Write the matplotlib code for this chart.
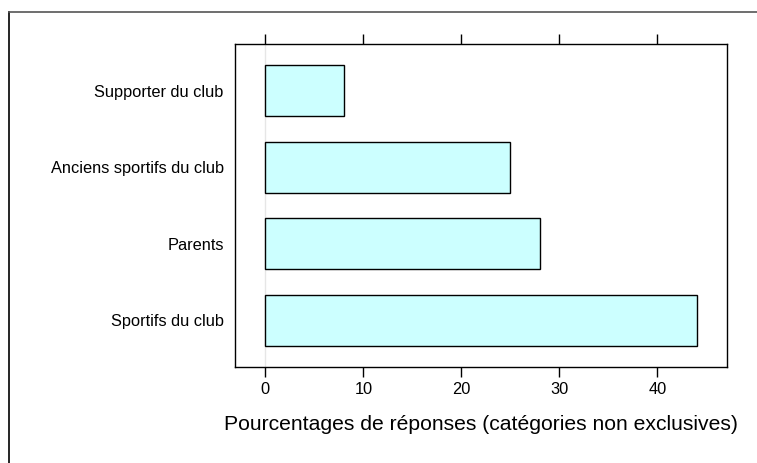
import matplotlib
matplotlib.use('Agg')
import matplotlib.pyplot as plt
from matplotlib.lines import Line2D

# Donnees
categories = ['Sportifs du club', 'Parents', 'Anciens sportifs du club', 'Supporter du club']
pourcentages = [44, 28, 25, 8]
graduations = [0, 10, 20, 30, 40]

plt.rcParams['font.family'] = ['Liberation Sans', 'DejaVu Sans']

fig = plt.figure(figsize=(7.57, 4.63), dpi=100)
ax = fig.add_axes([0.3104, 0.2073, 0.65, 0.6977])

positions = list(range(1, len(categories) + 1))
ax.axvline(0, color='#e6e6e6', lw=1, zorder=0)
ax.barh(positions, pourcentages, height=0.665, color='#ccffff', edgecolor='black', linewidth=1, zorder=2)

ax.set_xlim(-3.1, 47.1)
ax.set_ylim(0.393, 4.607)
ax.set_yticks(positions)
ax.set_yticklabels(categories, fontsize=11.8)
ax.set_xticks(graduations)
ax.set_xticklabels([str(g) for g in graduations], fontsize=11.8)
ax.tick_params(axis='x', top=True, bottom=True, direction='out', length=7, width=1, pad=4)
ax.tick_params(axis='y', length=0, pad=8)
for s in ax.spines.values():
    s.set_linewidth(1)
ax.set_xlabel('Pourcentages de réponses (catégories non exclusives)', fontsize=15.2, labelpad=13)

# cadre exterieur (haut et gauche)
fig.add_artist(Line2D([9/757, 9/757], [0, 1 - 12/463], color='black', lw=1.2, transform=fig.transFigure))
fig.add_artist(Line2D([9/757, 1], [1 - 12/463, 1 - 12/463], color='#555555', lw=1.2, transform=fig.transFigure))

plt.savefig('out.png', dpi=100)
